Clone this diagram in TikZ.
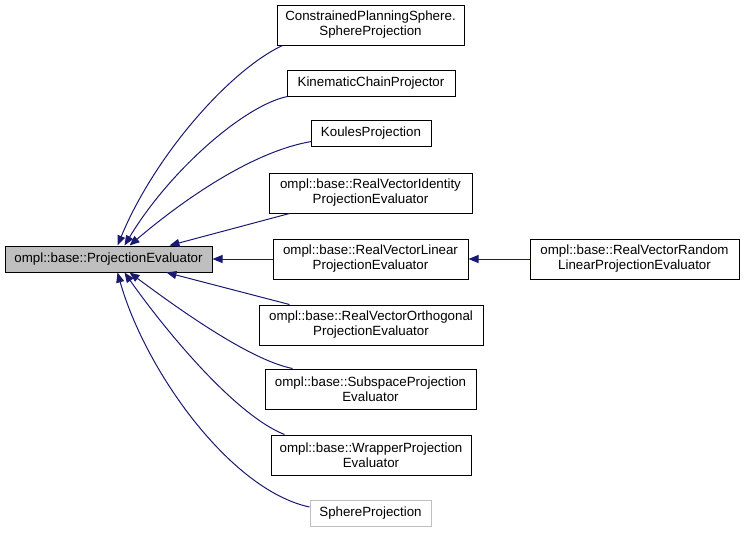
\documentclass[tikz,border=0pt]{standalone}
\usepackage{fontspec}
\setmainfont{Liberation Sans}
\usetikzlibrary{arrows.meta,calc}

\definecolor{edgeblue}{HTML}{191970}
\definecolor{rootgray}{HTML}{BFBFBF}

\tikzset{
  cls/.style={draw=black, fill=white, line width=0.75pt, inner sep=0pt,
    align=center, minimum height=30pt, font=\fontsize{10}{11.25}\selectfont},
  single/.style={minimum height=19.5pt},
  rootcls/.style={cls, single, fill=rootgray},
  extcls/.style={cls, draw=rootgray},
  inherit/.style={draw=edgeblue, line width=0.75pt,
    -{Triangle[length=7.5pt, width=6pt]}}
}

\begin{document}
\begin{tikzpicture}[x=0.75pt, y=-0.75pt]
  \useasboundingbox (0,0) rectangle (744,533);

  % Base class
  \node[rootcls, minimum width=155.25pt] (root) at (108.5,259) {ompl::base::ProjectionEvaluator};

  % Derived classes
  \node[cls, minimum width=140.25pt] (constrained) at (370.5,25)
    {ConstrainedPlanningSphere.\\SphereProjection};
  \node[cls, single, minimum width=126pt] (kinematic) at (371,83) {KinematicChainProjector};
  \node[cls, single, minimum width=90pt] (koules) at (371,133) {KoulesProjection};
  \node[cls, minimum width=152.25pt] (identity) at (370.5,193)
    {ompl::base::RealVectorIdentity\\ProjectionEvaluator};
  \node[cls, minimum width=146.25pt] (linear) at (370.5,259)
    {ompl::base::RealVectorLinear\\ProjectionEvaluator};
  \node[cls, minimum width=168pt] (orthogonal) at (371,325)
    {ompl::base::RealVectorOrthogonal\\ProjectionEvaluator};
  \node[cls, minimum width=158.25pt] (subspace) at (370.5,389)
    {ompl::base::SubspaceProjection\\Evaluator};
  \node[cls, minimum width=150pt] (wrapper) at (371,455)
    {ompl::base::WrapperProjection\\Evaluator};
  \node[extcls, single, minimum width=90.75pt] (sphere) at (370.5,513) {SphereProjection};
  \node[cls, minimum width=156.75pt] (random) at (634.5,259)
    {ompl::base::RealVectorRandom\\LinearProjectionEvaluator};

  % Inheritance edges, top half
  \draw[inherit] ($(constrained.south west)+(6,0)$)
    .. controls (230,70) and (155,155) .. ($(root.north west)+(113,0)$);
  \draw[inherit] ($(kinematic.south west)+(1,0)$)
    .. controls (245,105) and (170,170) .. ($(root.north west)+(120,0)$);
  \draw[inherit] ($(koules.south west)+(1,-5)$)
    .. controls (260,150) and (195,190) .. ($(root.north west)+(125,0)$);
  \draw[inherit] ($(identity.south west)+(21,0)$) -- ($(root.north west)+(165,0)$);

  % Middle
  \draw[inherit] (linear.west) -- (root.east);
  \draw[inherit] (random.west) -- (linear.east);

  % Inheritance edges, bottom half
  \draw[inherit] ($(orthogonal.north west)+(31,0)$) -- ($(root.south west)+(162,0)$);
  \draw[inherit] ($(subspace.north west)+(28,0)$)
    .. controls (250,360) and (180,310) .. ($(root.south west)+(125,0)$);
  \draw[inherit] ($(wrapper.north west)+(14,0)$)
    .. controls (235,415) and (165,330) .. ($(root.south west)+(120,0)$);
  \draw[inherit] ($(sphere.west)+(0,-6)$)
    .. controls (230,490) and (145,370) .. ($(root.south west)+(113,0)$);
\end{tikzpicture}
\end{document}
